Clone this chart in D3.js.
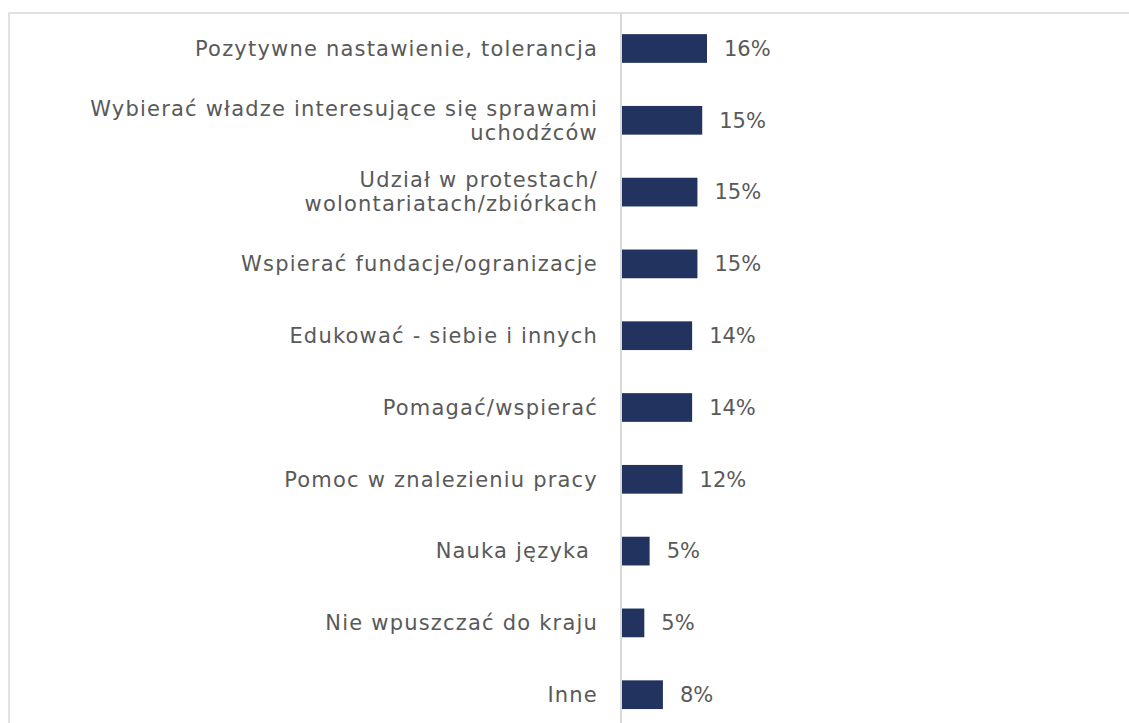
<!DOCTYPE html>
<meta charset="utf-8">
<script src="https://d3js.org/d3.v7.min.js"></script>
<head>
  <style>
    body { margin: 0; background: #fff; }
    .lbl { font-family: "Century Gothic", "DejaVu Sans", sans-serif; font-size: 21px; fill: #595959; white-space: pre; }
    .cat { letter-spacing: 1.2px; }
  </style>
</head>
<html><body>
<div id="viz"></div>
<script>

// categories, top to bottom (lines of each label)
const categories = [
  ["Pozytywne nastawienie, tolerancja"],
  ["Wybierać władze interesujące się sprawami", "uchodźców"],
  ["Udział w protestach/", "wolontariatach/zbiórkach"],
  ["Wspierać fundacje/ogranizacje"],
  ["Edukować - siebie i innych"],
  ["Pomagać/wspierać"],
  ["Pomoc w znalezieniu pracy"],
  ["Nauka języka "],
  ["Nie wpuszczać do kraju"],
  ["Inne"]
];
// bar lengths
const values = [16.0, 15.1, 14.2, 14.2, 13.2, 13.2, 11.4, 5.2, 4.2, 7.7];
// printed labels
const valueLabels = ["16%", "15%", "15%", "15%", "14%", "14%", "12%", "5%", "5%", "8%"];

const W = 1129, H = 723;
const svg = d3.select("#viz").append("svg")
  .attr("width", W).attr("height", H);

// outer chart border (extends past the window)
svg.append("rect")
  .attr("x", 9).attr("y", 13)
  .attr("width", 1200).attr("height", 800)
  .attr("fill", "none").attr("stroke", "#d9d9d9").attr("stroke-width", 1.5);

const ids = categories.map((d, i) => i);

const x = d3.scaleLinear()
  .domain([0, 16])
  .range([622, 707]);

const y = d3.scaleBand()
  .domain(ids)
  .range([12.6, 730.6])
  .paddingInner(0.6)
  .paddingOuter(0.3);

// vertical axis line
svg.append("line")
  .attr("x1", 621).attr("x2", 621)
  .attr("y1", 13).attr("y2", 740)
  .attr("stroke", "#d9d9d9").attr("stroke-width", 2);

svg.append("g")
  .selectAll("rect")
  .data(values)
  .join("rect")
    .attr("x", x(0))
    .attr("y", (d, i) => y(i))
    .attr("width", d => x(d) - x(0))
    .attr("height", y.bandwidth())
    .attr("fill", "#23335f");

// value labels
svg.append("g")
  .selectAll("text")
  .data(values)
  .join("text")
    .attr("class", "lbl")
    .attr("x", d => x(d) + 17)
    .attr("y", (d, i) => y(i) + y.bandwidth() / 2)
    .attr("dy", "0.35em")
    .text((d, i) => valueLabels[i]);

// category labels
const lineH = 24;
const cat = svg.append("g")
  .selectAll("text")
  .data(categories)
  .join("text")
    .attr("class", "lbl cat")
    .attr("text-anchor", "end")
    .attr("y", (d, i) => y(i) + y.bandwidth() / 2);

cat.selectAll("tspan")
  .data(d => d.map((t, k) => ({t, k, n: d.length})))
  .join("tspan")
    .attr("x", 598)
    .attr("dy", d => d.k === 0 ? ((0.35 * 21) - (d.n - 1) * lineH / 2) + "px" : lineH + "px")
    .text(d => d.t);

</script>
</body></html>
